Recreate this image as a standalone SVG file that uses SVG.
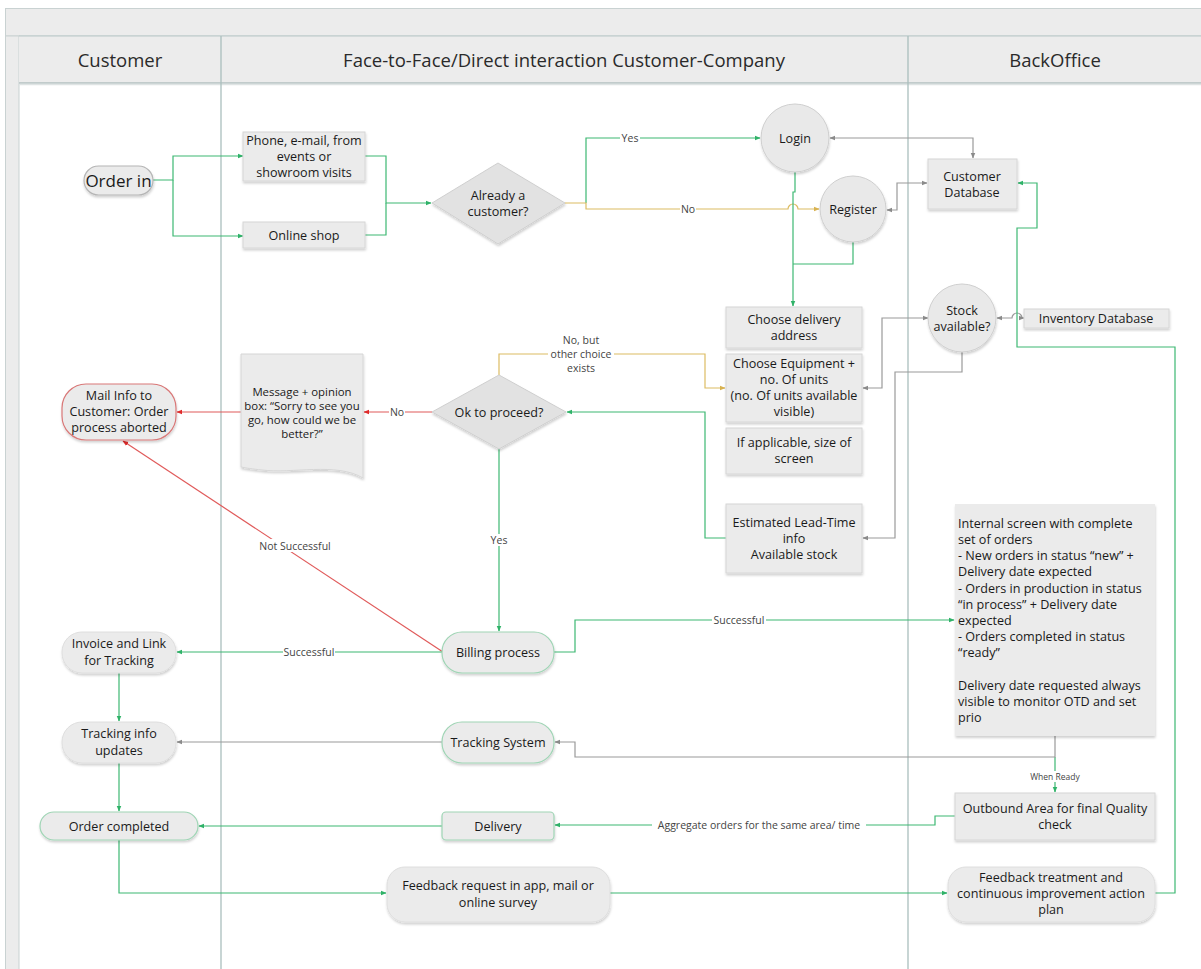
<svg xmlns="http://www.w3.org/2000/svg" width="1201" height="969" viewBox="0 0 1201 969">
  <defs>
    <style>
      text { font-family: "Open Sans", "Noto Sans", "DejaVu Sans", sans-serif; fill: #1a1a1a; text-anchor: middle; dominant-baseline: central; }
      .hdr { font-size: 18.5px; fill: #2a2a2a; }
      .t { font-size: 12.6px; }
      .tl { font-size: 12.6px; text-anchor: start; }
      .t16 { font-size: 17px; }
      .tsm { font-size: 11.4px; }
      .lbl { font-size: 10.5px; fill: #444; }
      .lblsm { font-size: 8.5px; fill: #444; }
      .box { fill: #ebebeb; stroke: #d6d6d6; stroke-width: 1; filter: url(#sh); }
      .box-n { fill: #ebebeb; stroke: none; filter: url(#sh); }
      .circ { fill: #e9e9e9; stroke: #cfcfcf; stroke-width: 1; filter: url(#sh); }
      .dia { fill: #e2e2e2; stroke: #cfcfcf; stroke-width: 1; filter: url(#sh); }
      .pill-g { fill: #ebebeb; stroke: #9fd5b5; stroke-width: 1.2; filter: url(#sh); }
      .pill-n { fill: #ebebeb; stroke: #dedede; stroke-width: 1; filter: url(#sh); }
      .pill-gray { fill: #ebebeb; stroke: #b5b5b5; stroke-width: 1.2; filter: url(#sh); }
      .pill-r { fill: #ebebeb; stroke: #d97878; stroke-width: 1.2; filter: url(#sh); }
      .c { fill: none; stroke-width: 1.2; }
      .cg { stroke: #3db872; }
      .cgr { stroke: #9a9a9a; }
      .cy { stroke: #dcbc63; }
      .cr { stroke: #e05a5a; }
      .bg { fill: #ffffff; }
    </style>
    <filter id="sh" x="-10%" y="-10%" width="125%" height="130%">
      <feDropShadow dx="0.5" dy="2" stdDeviation="1" flood-color="#000" flood-opacity="0.18"/>
    </filter>
    <marker id="ag" viewBox="0 0 10 10" refX="9" refY="5" markerWidth="6" markerHeight="6" orient="auto-start-reverse" markerUnits="userSpaceOnUse">
      <path d="M0,1 L10,5 L0,9 Z" fill="#2fb268"/>
    </marker>
    <marker id="agr" viewBox="0 0 10 10" refX="9" refY="5" markerWidth="6" markerHeight="6" orient="auto-start-reverse" markerUnits="userSpaceOnUse">
      <path d="M0,1 L10,5 L0,9 Z" fill="#8a8a8a"/>
    </marker>
    <marker id="ay" viewBox="0 0 10 10" refX="9" refY="5" markerWidth="6" markerHeight="6" orient="auto-start-reverse" markerUnits="userSpaceOnUse">
      <path d="M0,1 L10,5 L0,9 Z" fill="#d8b250"/>
    </marker>
    <marker id="ar" viewBox="0 0 10 10" refX="9" refY="5" markerWidth="6" markerHeight="6" orient="auto-start-reverse" markerUnits="userSpaceOnUse">
      <path d="M0,1 L10,5 L0,9 Z" fill="#e02a2a"/>
    </marker>
  </defs>

  <!-- swimlane frame -->
  <g id="lanes">
    <rect x="0" y="0" width="1201" height="969" fill="#ffffff"/>
    <rect x="5.5" y="8.5" width="1200" height="27.5" fill="#ececec" stroke="#c9d2d2"/>
    <rect x="5.5" y="36" width="13.5" height="940" fill="#ececec" stroke="#c9d2d2"/>
    <rect x="19" y="36" width="1190" height="47" fill="#ececec"/>
    <line x1="19" y1="36" x2="1201" y2="36" stroke="#b9c7c7"/>
    <line x1="19" y1="83" x2="1201" y2="83" stroke="#b3c1c1" stroke-width="1.3"/>
    <line x1="19" y1="84.5" x2="1201" y2="84.5" stroke="#dfe4e4" stroke-width="1.5"/>
    <line x1="221" y1="36" x2="221" y2="969" stroke="#aabfbd" stroke-width="1.3"/>
    <line x1="908" y1="36" x2="908" y2="969" stroke="#aabfbd" stroke-width="1.3"/>
    <text class="hdr" x="120" y="59">Customer</text>
    <text class="hdr" x="564" y="59">Face-to-Face/Direct interaction Customer-Company</text>
    <text class="hdr" x="1055" y="59">BackOffice</text>
  </g>

  <!-- connectors -->
  <g id="connectors">
    <!-- order entry -->
    <path class="c cg" d="M153,180 H173 V156 H243" marker-end="url(#ag)"/>
    <path class="c cg" d="M173,180 V236 H243" marker-end="url(#ag)"/>
    <path class="c cg" d="M365,156 H386 V203 H431" marker-end="url(#ag)"/>
    <path class="c cg" d="M365,235 H386 V203"/>
    <!-- already a customer -->
    <path class="c cg" d="M586,203 V138 H760" marker-end="url(#ag)"/>
    <path class="c cy" d="M565,203 H586 V209 H788 A5,5 0 0 1 798,209 H819" marker-end="url(#ay)"/>
    <rect class="bg" x="620" y="132" width="20" height="12"/>
    <text class="lbl" x="630" y="138">Yes</text>
    <rect class="bg" x="680" y="203" width="16" height="12"/>
    <text class="lbl" x="688" y="209">No</text>
    <!-- login / register to delivery address -->
    <path class="c cg" d="M795,172 V192 H793 V306" marker-end="url(#ag)"/>
    <path class="c cg" d="M853,242 V264 H793"/>
    <!-- database links -->
    <path class="c cgr" d="M830,138 H973 V158" marker-start="url(#agr)" marker-end="url(#agr)"/>
    <path class="c cgr" d="M887,210 H897 V183 H927" marker-start="url(#agr)" marker-end="url(#agr)"/>
    <path class="c cgr" d="M997,318 H1012 A5,5 0 0 1 1022,318 H1024" marker-start="url(#agr)" marker-end="url(#agr)"/>
    <path class="c cgr" d="M928,318 H882 V388 H863" marker-start="url(#agr)" marker-end="url(#agr)"/>
    <path class="c cgr" d="M962,352 V372 H895 V538 H863" marker-end="url(#agr)"/>
    <!-- feedback loop back to customer database -->
    <path class="c cg" d="M1155,893 H1175 V347 H1017 V228 H1037 V183 H1018" marker-end="url(#ag)"/>
    <!-- ok to proceed -->
    <path class="c cy" d="M499,375 V354 H705 V388 H725" marker-end="url(#ay)"/>
    <rect class="bg" x="548" y="333" width="66" height="42"/>
    <text class="lbl" x="581" y="340">No, but</text>
    <text class="lbl" x="581" y="354">other choice</text>
    <text class="lbl" x="581" y="368">exists</text>
    <path class="c cg" d="M726,538 H705 V412 H567" marker-end="url(#ag)"/>
    <path class="c cr" d="M432,412 H364" marker-end="url(#ar)"/>
    <rect class="bg" x="389" y="406" width="16" height="12"/>
    <text class="lbl" x="397" y="412">No</text>
    <path class="c cr" d="M241,412 H177" marker-end="url(#ar)"/>
    <path class="c cg" d="M499,449 V631" marker-end="url(#ag)"/>
    <rect class="bg" x="489" y="534" width="20" height="12"/>
    <text class="lbl" x="499" y="540">Yes</text>
    <!-- billing outcomes -->
    <path class="c cr" d="M443,652 L123,441" stroke-width="1" marker-end="url(#ar)"/>
    <rect class="bg" x="243" y="539" width="104" height="13"/>
    <text class="lbl" x="295" y="545.5">Not Successful</text>
    <path class="c cg" d="M443,652 H177" marker-end="url(#ag)"/>
    <rect class="bg" x="283" y="646" width="52" height="12"/>
    <text class="lbl" x="309" y="652">Successful</text>
    <path class="c cg" d="M554,652 H575 V620 H954" marker-end="url(#ag)"/>
    <rect class="bg" x="712" y="614" width="54" height="12"/>
    <text class="lbl" x="739" y="620">Successful</text>
    <!-- tracking -->
    <path class="c cg" d="M119,673 V721" marker-end="url(#ag)"/>
    <path class="c cg" d="M1055,757 V792" marker-end="url(#ag)"/>
    <path class="c cgr" d="M1055,736 V757 H575 V742 H555" marker-end="url(#agr)"/>
    <path class="c cgr" d="M443,742 H177" marker-end="url(#agr)"/>
    <path class="c cg" d="M119,763 V811" marker-end="url(#ag)"/>
    <rect class="bg" x="1030" y="771" width="50" height="11"/>
    <text class="lblsm" x="1055" y="776.5">When Ready</text>
    <!-- delivery -->
    <path class="c cg" d="M955,816 H935 V825 H555" marker-end="url(#ag)"/>
    <rect class="bg" x="652" y="819" width="214" height="12"/>
    <text class="lbl" x="759" y="825">Aggregate orders for the same area/ time</text>
    <path class="c cg" d="M443,826 H199" marker-end="url(#ag)"/>
    <!-- feedback -->
    <path class="c cg" d="M119,840 V893 H386" marker-end="url(#ag)"/>
    <path class="c cg" d="M610,893 H947" marker-end="url(#ag)"/>
  </g>

  <!-- customer lane -->
  <g id="order-in">
    <rect class="pill-gray" x="84" y="166" width="69" height="29" rx="14.5"/>
    <text class="t16" x="118.5" y="180">Order in</text>
  </g>
  <g id="mail-info">
    <rect class="pill-r" x="62" y="384" width="114" height="56" rx="24"/>
    <text class="t" x="119" y="395">Mail Info to</text>
    <text class="t" x="119" y="411">Customer: Order</text>
    <text class="t" x="119" y="427">process aborted</text>
  </g>
  <g id="invoice">
    <rect class="pill-n" x="62" y="632" width="114" height="41" rx="20"/>
    <text class="t" x="119" y="643">Invoice and Link</text>
    <text class="t" x="119" y="660">for Tracking</text>
  </g>
  <g id="tracking-info">
    <rect class="pill-n" x="62" y="722" width="114" height="41" rx="20"/>
    <text class="t" x="119" y="733">Tracking info</text>
    <text class="t" x="119" y="750">updates</text>
  </g>
  <g id="order-completed">
    <rect class="pill-g" x="40" y="812" width="158" height="28" rx="14"/>
    <text class="t" x="119" y="826">Order completed</text>
  </g>

  <!-- face-to-face lane -->
  <g id="phone">
    <rect class="box" x="243" y="132" width="122" height="49"/>
    <text class="t" x="304" y="140">Phone, e-mail, from</text>
    <text class="t" x="304" y="156">events or</text>
    <text class="t" x="304" y="172">showroom visits</text>
  </g>
  <g id="online-shop">
    <rect class="box" x="243" y="222" width="122" height="26"/>
    <text class="t" x="304" y="235">Online shop</text>
  </g>
  <g id="already-customer">
    <polygon class="dia" points="432,203 498,163 565,203 498,244"/>
    <text class="t" x="498" y="195">Already a</text>
    <text class="t" x="498" y="211">customer?</text>
  </g>
  <g id="login">
    <circle class="circ" cx="795" cy="138" r="34"/>
    <text class="t" x="795" y="138">Login</text>
  </g>
  <g id="register">
    <circle class="circ" cx="853" cy="209" r="33"/>
    <text class="t" x="853" y="209">Register</text>
  </g>
  <g id="delivery-address">
    <rect class="box" x="726" y="307" width="136" height="41"/>
    <text class="t" x="794" y="319">Choose delivery</text>
    <text class="t" x="794" y="335">address</text>
  </g>
  <g id="equipment">
    <rect class="box" x="726" y="354" width="136" height="68"/>
    <text class="t" x="794" y="363">Choose Equipment +</text>
    <text class="t" x="794" y="379">no. Of units</text>
    <text class="t" x="794" y="395">(no. Of units available</text>
    <text class="t" x="794" y="411">visible)</text>
  </g>
  <g id="screen-size">
    <rect class="box" x="726" y="428" width="136" height="46"/>
    <text class="t" x="794" y="442">If applicable, size of</text>
    <text class="t" x="794" y="458">screen</text>
  </g>
  <g id="lead-time">
    <rect class="box" x="726" y="504" width="136" height="69"/>
    <text class="t" x="794" y="522">Estimated Lead-Time</text>
    <text class="t" x="794" y="538">info</text>
    <text class="t" x="794" y="554">Available stock</text>
  </g>
  <g id="ok-to-proceed">
    <polygon class="dia" points="432,412 499,375 566,412 499,449"/>
    <text class="t" x="499" y="412">Ok to proceed?</text>
  </g>
  <g id="message-box">
    <path class="box" d="M241,354 H363 V478 C336,462 292,474 262,470 C252,469 246,468 241,467 Z"/>
    <text class="tsm" x="302" y="391">Message + opinion</text>
    <text class="tsm" x="302" y="405">box: “Sorry to see you</text>
    <text class="tsm" x="302" y="419">go, how could we be</text>
    <text class="tsm" x="302" y="433">better?”</text>
  </g>
  <g id="billing">
    <rect class="pill-g" x="442" y="632" width="112" height="41" rx="20"/>
    <text class="t" x="498" y="652">Billing process</text>
  </g>
  <g id="tracking-system">
    <rect class="pill-g" x="442" y="722" width="112" height="41" rx="20"/>
    <text class="t" x="498" y="742">Tracking System</text>
  </g>
  <g id="delivery">
    <rect class="pill-g" x="442" y="812" width="112" height="28" rx="4"/>
    <text class="t" x="498" y="826">Delivery</text>
  </g>
  <g id="feedback-request">
    <rect class="pill-n" x="387" y="867" width="223" height="55" rx="18"/>
    <text class="t" x="498" y="885">Feedback request in app, mail or</text>
    <text class="t" x="498" y="902">online survey</text>
  </g>

  <!-- back office lane -->
  <g id="customer-db">
    <rect class="box" x="928" y="159" width="89" height="50"/>
    <text class="t" x="972" y="176">Customer</text>
    <text class="t" x="972" y="192">Database</text>
  </g>
  <g id="stock">
    <circle class="circ" cx="962" cy="318" r="34"/>
    <text class="t" x="962" y="310">Stock</text>
    <text class="t" x="962" y="326">available?</text>
  </g>
  <g id="inventory-db">
    <rect class="box" x="1024" y="309" width="145" height="19"/>
    <text class="t" x="1096" y="318">Inventory Database</text>
  </g>
  <g id="internal-screen">
    <rect class="box-n" x="955" y="504" width="200" height="232"/>
    <text class="tl" x="958" y="523">Internal screen with complete</text>
    <text class="tl" x="958" y="539">set of orders</text>
    <text class="tl" x="958" y="555">- New orders in status “new” +</text>
    <text class="tl" x="958" y="571">Delivery date expected</text>
    <text class="tl" x="958" y="588">- Orders in production in status</text>
    <text class="tl" x="958" y="604">“in process” + Delivery date</text>
    <text class="tl" x="958" y="620">expected</text>
    <text class="tl" x="958" y="636">- Orders completed in status</text>
    <text class="tl" x="958" y="652">“ready”</text>
    <text class="tl" x="958" y="685">Delivery date requested always</text>
    <text class="tl" x="958" y="701">visible to monitor OTD and set</text>
    <text class="tl" x="958" y="717">prio</text>
  </g>
  <g id="outbound">
    <rect class="box" x="955" y="793" width="200" height="47"/>
    <text class="t" x="1055" y="808">Outbound Area for final Quality</text>
    <text class="t" x="1055" y="824">check</text>
  </g>
  <g id="feedback-treatment">
    <rect class="pill-n" x="948" y="867" width="207" height="55" rx="18"/>
    <text class="t" x="1051" y="877">Feedback treatment and</text>
    <text class="t" x="1051" y="893">continuous improvement action</text>
    <text class="t" x="1051" y="909">plan</text>
  </g>
</svg>
